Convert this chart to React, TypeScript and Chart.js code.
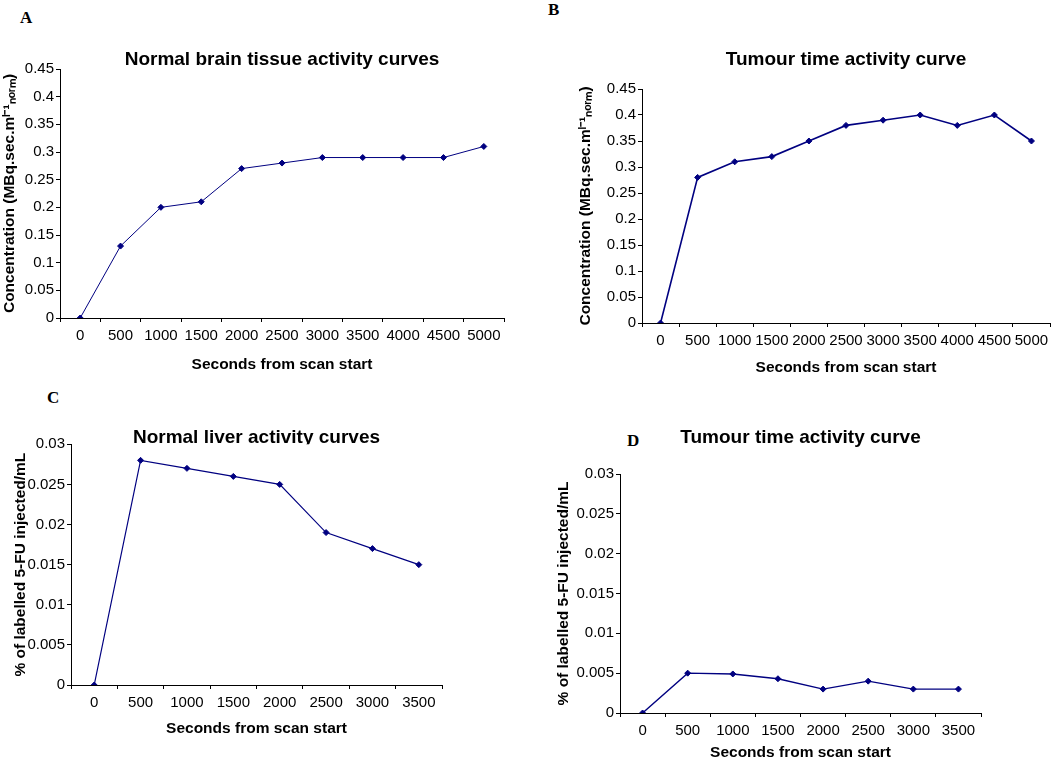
import React, { useEffect, useRef } from 'react';
import { Chart, registerables } from 'chart.js';

Chart.register(...registerables);

// ---- data ----
const secondsLong = ['0', '500', '1000', '1500', '2000', '2500', '3000', '3500', '4000', '4500', '5000'];
const secondsShort = ['0', '500', '1000', '1500', '2000', '2500', '3000', '3500'];
const brainConcentration = [0, 0.13, 0.2, 0.21, 0.27, 0.28, 0.29, 0.29, 0.29, 0.29, 0.31];
const tumourConcentration = [0, 0.28, 0.31, 0.32, 0.35, 0.38, 0.39, 0.4, 0.38, 0.4, 0.35];
const liverPercent = [0, 0.028, 0.027, 0.026, 0.025, 0.019, 0.017, 0.015];
const tumourPercent = [0, 0.005, 0.0049, 0.0043, 0.003, 0.004, 0.003, 0.003];

const titleA = 'Normal brain tissue activity curves';
const titleB = 'Tumour time activity curve';
const titleC = 'Normal liver activity curves';
const titleD = 'Tumour time activity curve';
const concentrationTitle = 'Concentration (MBq.sec.m\u02E1\u207B\u00B9\u2099\u2092\u1D63\u2098)';
const percentTitle = '% of labelled 5-FU injected/mL';
const xTitle = 'Seconds from scan start';

const SANS = '"Liberation Sans", Arial, Helvetica, sans-serif';
const SERIF = '"Liberation Serif", "Times New Roman", serif';
const NAVY = '#000080';

const coverPlotTop = {
  id: 'coverPlotTop',
  beforeDatasetsDraw(chart: any) {
    const { ctx, chartArea: a } = chart;
    ctx.save();
    ctx.fillStyle = '#ffffff';
    ctx.fillRect(a.left + 1, a.top, a.right - a.left - 1, 10);
    ctx.restore();
  },
};

type PanelProps = {
  labels: string[];
  values: number[];
  title: string;
  yTitle: string;
  yMax: number;
  yStep: number;
  left: number;
  top: number;
  width: number;
  height: number;
  yAxisWidth: number;
  xAxisHeight: number;
  padRight: number;
  titlePadTop: number;
  titlePadBottom: number;
  titleLineHeight: number;
  lineWidth: number;
  coverTitle?: boolean;
};

function Panel(p: PanelProps) {
  const ref = useRef<HTMLCanvasElement | null>(null);
  useEffect(() => {
    if (!ref.current) return;
    const tickFont = { family: SANS, size: 15 };
    const axisTitleFont = { family: SANS, size: 15.5, weight: 'bold' as const, lineHeight: 1.2 };
    const chart = new Chart(ref.current, {
      type: 'line',
      data: {
        labels: p.labels,
        datasets: [
          {
            data: p.values,
            borderColor: NAVY,
            backgroundColor: NAVY,
            borderWidth: p.lineWidth,
            pointStyle: 'rectRot',
            pointRadius: 3,
            pointBackgroundColor: NAVY,
            pointBorderColor: NAVY,
            pointBorderWidth: 1,
            tension: 0,
            fill: false,
          },
        ],
      },
      options: {
        responsive: false,
        animation: false,
        devicePixelRatio: 1,
        events: [],
        layout: { padding: { left: 0, right: p.padRight, top: 0, bottom: 0 } },
        plugins: {
          legend: { display: false },
          tooltip: { enabled: false },
          title: {
            display: true,
            text: p.title,
            fullSize: false,
            color: '#000',
            font: { family: SANS, size: 19, weight: 'bold', lineHeight: p.titleLineHeight },
            padding: { top: p.titlePadTop, bottom: p.titlePadBottom },
          },
        },
        scales: {
          x: {
            type: 'category',
            offset: true,
            grid: {
              offset: true,
              drawOnChartArea: false,
              drawTicks: true,
              tickLength: 4,
              color: '#000',
              lineWidth: 1,
            },
            border: { display: true, color: '#000', width: 1 },
            ticks: {
              autoSkip: false,
              maxRotation: 0,
              minRotation: 0,
              padding: 5,
              color: '#000',
              font: tickFont,
            },
            title: { display: true, text: xTitle, color: '#000', font: axisTitleFont, padding: 0 },
            afterFit: (s: any) => {
              s.height = p.xAxisHeight;
            },
          },
          y: {
            type: 'linear',
            min: 0,
            max: p.yMax,
            ticks: {
              stepSize: p.yStep,
              padding: 2,
              color: '#000',
              font: tickFont,
              callback: (v: any) => String(Number(Number(v).toFixed(4))),
            },
            grid: { drawOnChartArea: false, drawTicks: true, tickLength: 4, color: '#000', lineWidth: 1 },
            border: { display: true, color: '#000', width: 1 },
            title: { display: true, text: p.yTitle, color: '#000', font: axisTitleFont, padding: 0 },
            afterFit: (s: any) => {
              s.width = p.yAxisWidth;
            },
          },
        },
      } as any,
      plugins: p.coverTitle ? [coverPlotTop] : [],
    });
    return () => chart.destroy();
  }, []);
  return (
    <canvas
      ref={ref}
      width={p.width}
      height={p.height}
      style={{ position: 'absolute', left: p.left, top: p.top, width: p.width, height: p.height, display: 'block' }}
    />
  );
}

const letterStyle = (left: number, top: number): React.CSSProperties => ({
  position: 'absolute',
  left,
  top,
  fontFamily: SERIF,
  fontWeight: 'bold',
  fontSize: 17,
  lineHeight: '17px',
  color: '#000',
});

export default function App() {
  return (
    <div
      style={{
        position: 'absolute',
        left: 0,
        top: 0,
        width: 1060,
        height: 763,
        overflow: 'hidden',
        background: '#fff',
      }}
    >
      <div style={letterStyle(20, 9)}>A</div>
      <div style={letterStyle(548, 1)}>B</div>
      <div style={letterStyle(47, 389)}>C</div>
      <div style={letterStyle(627, 432)}>D</div>
      <Panel
        labels={secondsLong}
        values={brainConcentration}
        title={titleA}
        yTitle={concentrationTitle}
        yMax={0.45}
        yStep={0.05}
        left={0}
        top={30}
        width={514}
        height={344}
        yAxisWidth={60}
        xAxisHeight={56}
        padRight={10}
        titlePadTop={20}
        titlePadBottom={0}
        titleLineHeight={1}
        lineWidth={1}
      />
      <Panel
        labels={secondsLong}
        values={tumourConcentration}
        title={titleB}
        yTitle={concentrationTitle}
        yMax={0.45}
        yStep={0.05}
        left={576}
        top={30}
        width={484}
        height={347}
        yAxisWidth={66}
        xAxisHeight={54}
        padRight={10}
        titlePadTop={20}
        titlePadBottom={20}
        titleLineHeight={1}
        lineWidth={1.6}
      />
      <Panel
        labels={secondsShort}
        values={liverPercent}
        title={titleC}
        yTitle={percentTitle}
        yMax={0.03}
        yStep={0.005}
        left={11}
        top={400}
        width={441}
        height={338}
        yAxisWidth={60}
        xAxisHeight={53}
        padRight={10}
        titlePadTop={31}
        titlePadBottom={0}
        titleLineHeight={0.7}
        lineWidth={1.2}
        coverTitle
      />
      <Panel
        labels={secondsShort}
        values={tumourPercent}
        title={titleD}
        yTitle={percentTitle}
        yMax={0.03}
        yStep={0.005}
        left={554}
        top={400}
        width={437}
        height={362}
        yAxisWidth={66}
        xAxisHeight={49}
        padRight={10}
        titlePadTop={28}
        titlePadBottom={27}
        titleLineHeight={1}
        lineWidth={1.4}
      />
    </div>
  );
}
